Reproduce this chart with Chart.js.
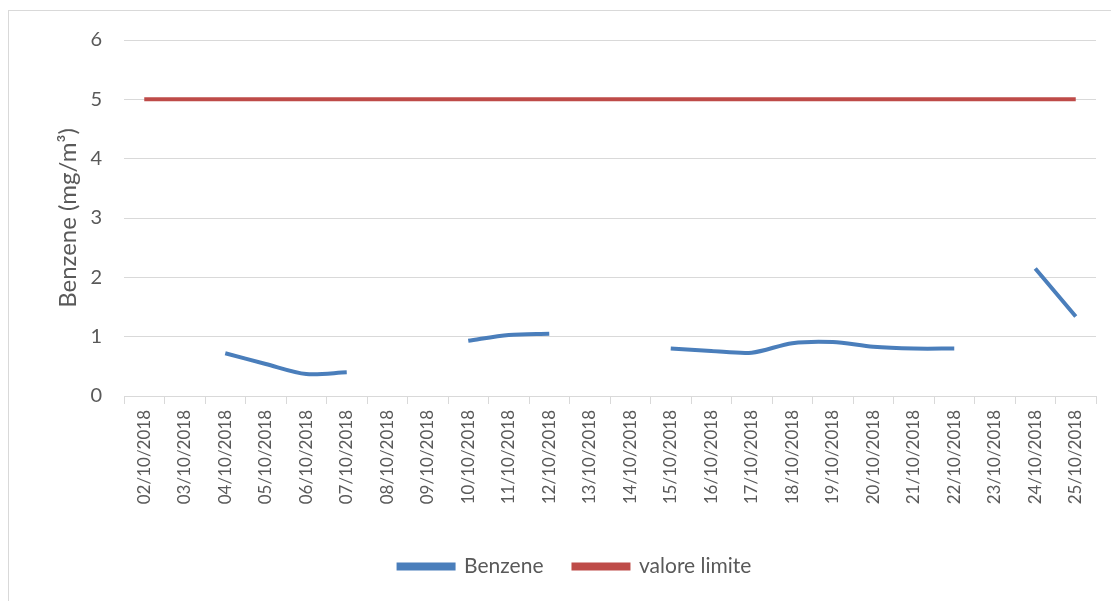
<!DOCTYPE html>
<html>
<head>
<meta charset="utf-8">
<script src="https://cdn.jsdelivr.net/npm/chart.js@4"></script>
<style>
    body { margin: 0; background: #fff; }
    #frame { position: absolute; left: 8px; top: 10px; width: 1200px; height: 700px; border: 1px solid #d9d9d9; }
    #wrap { position: absolute; left: 0; top: 0; width: 1111px; height: 601px; }
</style>
</head>
<body>
<div id="frame"></div>
<div id="wrap"><canvas id="benzeneChart"></canvas></div>
<script>
    // Data
    const dates = ['02/10/2018', '03/10/2018', '04/10/2018', '05/10/2018', '06/10/2018', '07/10/2018',
        '08/10/2018', '09/10/2018', '10/10/2018', '11/10/2018', '12/10/2018', '13/10/2018',
        '14/10/2018', '15/10/2018', '16/10/2018', '17/10/2018', '18/10/2018', '19/10/2018',
        '20/10/2018', '21/10/2018', '22/10/2018', '23/10/2018', '24/10/2018', '25/10/2018'];
    const benzene = [null, null, 0.72, 0.54, 0.37, 0.40,
        null, null, 0.93, 1.03, 1.05, null,
        null, 0.80, 0.76, 0.73, 0.89, 0.91,
        0.83, 0.80, 0.80, null, 2.15, 1.34];
    const valoreLimite = [5, 5, 5, 5, 5, 5, 5, 5, 5, 5, 5, 5,
        5, 5, 5, 5, 5, 5, 5, 5, 5, 5, 5, 5];
    const yTicks = [0, 1, 2, 3, 4, 5, 6];

    const textColor = '#595959';
    const gridColor = '#d9d9d9';
    const fontFamily = 'Lato, "Liberation Sans", sans-serif';

    const ctx = document.getElementById('benzeneChart').getContext('2d');
    new Chart(ctx, {
        type: 'line',
        data: {
            labels: dates,
            datasets: [{
                label: 'Benzene',
                data: benzene,
                borderColor: '#4a7ebb',
                backgroundColor: '#4a7ebb',
                borderWidth: 4,
                pointRadius: 0,
                tension: 0.3,
                spanGaps: false
            }, {
                label: 'valore limite',
                data: valoreLimite,
                borderColor: '#be4b48',
                backgroundColor: '#be4b48',
                borderWidth: 4,
                pointRadius: 0,
                tension: 0
            }]
        },
        options: {
            responsive: true,
            maintainAspectRatio: false,
            animation: false,
            layout: { padding: { left: 54, right: 15, top: 40, bottom: 14 } },
            plugins: {
                tooltip: { enabled: false },
                legend: {
                    position: 'bottom',
                    labels: {
                        boxWidth: 55,
                        boxHeight: 4,
                        padding: 30,
                        color: textColor,
                        font: { family: fontFamily, size: 21 }
                    }
                }
            },
            scales: {
                x: {
                    offset: true,
                    grid: {
                        offset: true,
                        drawOnChartArea: false,
                        drawTicks: true,
                        tickLength: 8,
                        color: gridColor
                    },
                    border: { display: true, color: gridColor },
                    ticks: {
                        autoSkip: false,
                        minRotation: 90,
                        maxRotation: 90,
                        padding: 6,
                        color: textColor,
                        font: { family: fontFamily, size: 17 }
                    },
                    afterFit: s => { s.height = 130; }
                },
                y: {
                    min: 0,
                    max: 6,
                    afterBuildTicks: s => { s.ticks = yTicks.map(v => ({ value: v })); },
                    grid: { color: gridColor, drawTicks: false },
                    border: { display: false },
                    ticks: {
                        padding: 22,
                        color: textColor,
                        font: { family: fontFamily, size: 20 }
                    },
                    title: {
                        display: true,
                        text: 'Benzene (mg/m³)',
                        color: textColor,
                        padding: { top: 0, bottom: 4 },
                        font: { family: fontFamily, size: 24 }
                    },
                    afterFit: s => { s.width = 70; }
                }
            }
        }
    });
</script>
</body>
</html>
